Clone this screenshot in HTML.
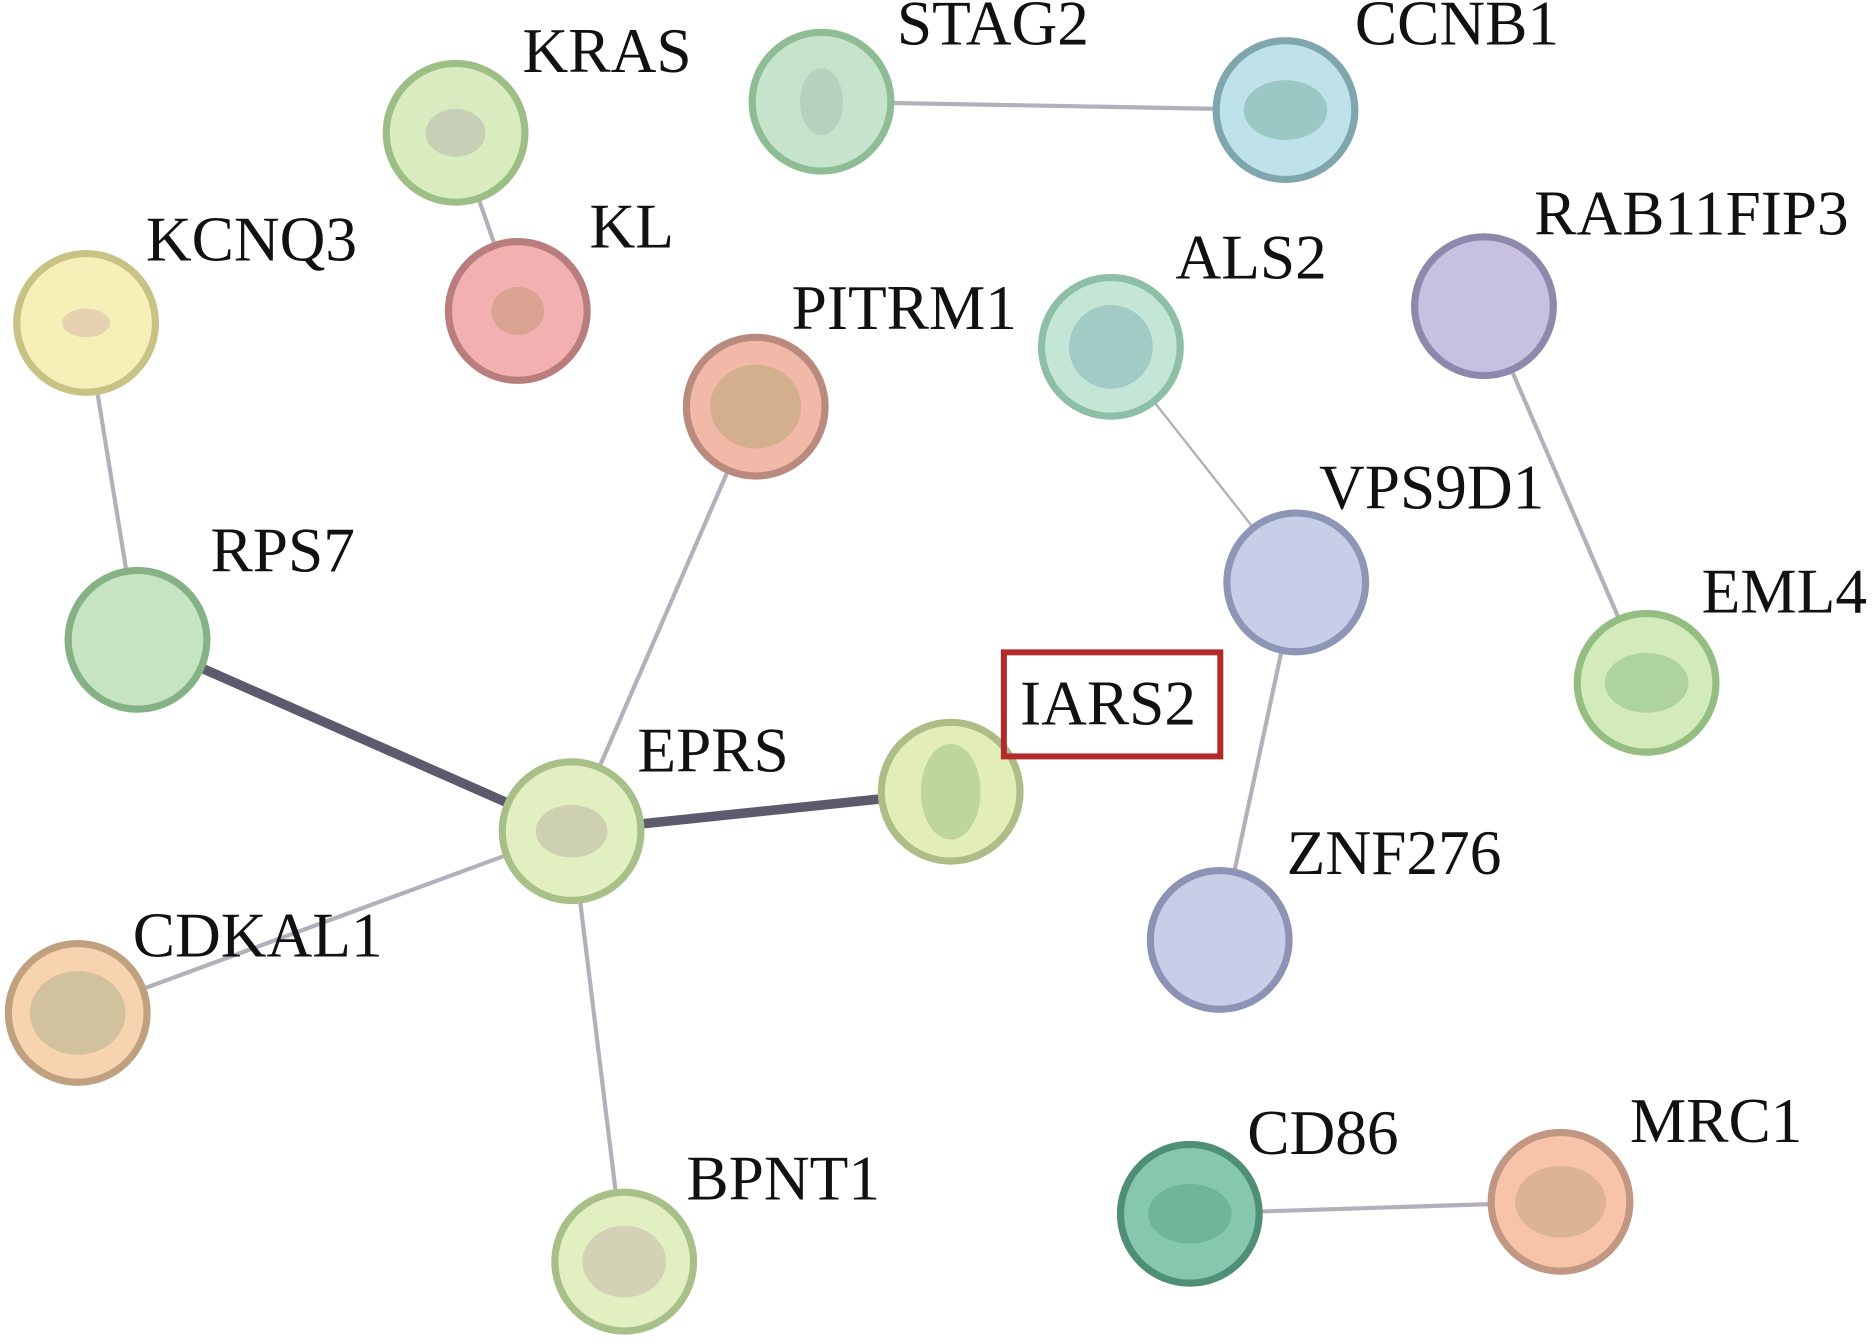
<!DOCTYPE html>
<html><head><meta charset="utf-8"><style>
html,body{margin:0;padding:0;background:#fff;}
svg{display:block;}
text{font-family:"Liberation Serif",serif;font-size:53px;fill:#111;}
</style></head><body>
<svg width="1875" height="1343" viewBox="0 0 1568 1123" xmlns="http://www.w3.org/2000/svg">
<g stroke="#b3b0bb" stroke-width="3.5" fill="none">
<line x1="381" y1="111" x2="433" y2="260"/>
<line x1="687" y1="85" x2="1075" y2="92"/>
<line x1="72" y1="270" x2="115" y2="535"/>
<line x1="632" y1="340" x2="478" y2="695"/>
<line x1="929" y1="290" x2="1084" y2="487" stroke-width="2"/>
<line x1="1241" y1="256" x2="1377" y2="571"/>
<line x1="1084" y1="487" x2="1020" y2="786"/>
<line x1="478" y1="695" x2="65" y2="847"/>
<line x1="478" y1="695" x2="522" y2="1055"/>
<line x1="995" y1="1015" x2="1305" y2="1005"/>
</g>
<g stroke="#5e5a6e" stroke-width="8">
<line x1="115" y1="535" x2="478" y2="695"/>
<line x1="478" y1="695" x2="795" y2="662"/>
</g>
<g stroke-width="6">
<circle cx="381" cy="111" r="58" fill="#d9ecc0" stroke="#9dbf86"/>
<circle cx="687" cy="85" r="58" fill="#c6e4cc" stroke="#8fbc95"/>
<circle cx="1075" cy="92" r="58" fill="#bfe2ea" stroke="#7fa6ad"/>
<circle cx="72" cy="270" r="58" fill="#f6f0b8" stroke="#c8c285"/>
<circle cx="433" cy="260" r="58" fill="#f2b1b0" stroke="#b87d7c"/>
<circle cx="632" cy="340" r="58" fill="#f2b8a8" stroke="#bb8a7e"/>
<circle cx="929" cy="290" r="58" fill="#c3e6d6" stroke="#8cbfa6"/>
<circle cx="1241" cy="256" r="58" fill="#c7c0e0" stroke="#8f88ad"/>
<circle cx="1084" cy="487" r="58" fill="#c7cfe8" stroke="#8e96b5"/>
<circle cx="115" cy="535" r="58" fill="#c6e4c2" stroke="#86b184"/>
<circle cx="1377" cy="571" r="58" fill="#d3ebbb" stroke="#94bd82"/>
<circle cx="795" cy="662" r="58" fill="#e2edb8" stroke="#aebc85"/>
<circle cx="478" cy="695" r="58" fill="#e2efc0" stroke="#a9bf88"/>
<circle cx="1020" cy="786" r="58" fill="#c9cde8" stroke="#8e92b4"/>
<circle cx="65" cy="847" r="58" fill="#f7d3b0" stroke="#bfa07f"/>
<circle cx="995" cy="1015" r="58" fill="#86c8ad" stroke="#4f8f75"/>
<circle cx="1305" cy="1005" r="58" fill="#f7c4aa" stroke="#c19783"/>
<circle cx="522" cy="1055" r="58" fill="#e2efc0" stroke="#a9bf88"/>
</g>
<g opacity="0.3">
<ellipse cx="381" cy="111" rx="25" ry="20" fill="#a08aa0"/>
<ellipse cx="687" cy="85" rx="18" ry="28" fill="#8aa89a"/>
<ellipse cx="1075" cy="92" rx="35" ry="25" fill="#4a8a70"/>
<ellipse cx="72" cy="270" rx="20" ry="12" fill="#c08aa0"/>
<ellipse cx="433" cy="260" rx="22" ry="20" fill="#a0804a"/>
<ellipse cx="632" cy="340" rx="38" ry="35" fill="#8a9a50"/>
<ellipse cx="929" cy="290" rx="35" ry="35" fill="#5a90a0"/>
<ellipse cx="1377" cy="571" rx="35" ry="25" fill="#5a9a60"/>
<ellipse cx="795" cy="662" rx="25" ry="40" fill="#6aa060"/>
<ellipse cx="478" cy="695" rx="30" ry="22" fill="#a08a90"/>
<ellipse cx="65" cy="847" rx="40" ry="35" fill="#7a9a70"/>
<ellipse cx="995" cy="1015" rx="35" ry="25" fill="#3a8a70"/>
<ellipse cx="1305" cy="1005" rx="38" ry="30" fill="#a09060"/>
<ellipse cx="522" cy="1055" rx="35" ry="30" fill="#b090a0"/>
</g>
<text x="437" y="60">KRAS</text>
<text x="750" y="37">STAG2</text>
<text x="1133" y="37">CCNB1</text>
<text x="122" y="218">KCNQ3</text>
<text x="493" y="207">KL</text>
<text x="662" y="275">PITRM1</text>
<text x="983" y="233">ALS2</text>
<text x="1283" y="196">RAB11FIP3</text>
<text x="1103" y="425">VPS9D1</text>
<text x="176" y="478">RPS7</text>
<text x="1423" y="512">EML4</text>
<rect x="839.5" y="545.5" width="181" height="87" fill="none" stroke="#b22a2a" stroke-width="5"/>
<text x="853" y="606">IARS2</text>
<text x="533" y="645">EPRS</text>
<text x="1076" y="731">ZNF276</text>
<text x="111" y="800">CDKAL1</text>
<text x="1043" y="965">CD86</text>
<text x="1363" y="955">MRC1</text>
<text x="574" y="1003">BPNT1</text>
</svg>
</body></html>
